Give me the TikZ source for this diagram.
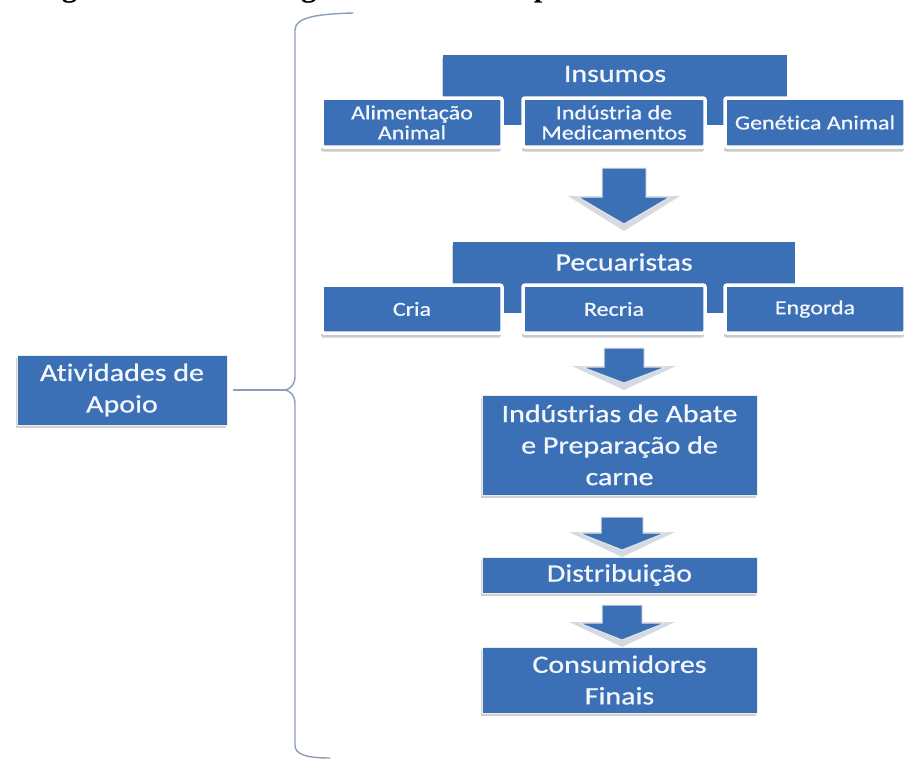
\documentclass[tikz,border=0pt]{standalone}
\usepackage{fontspec}
\setmainfont{Carlito}[FakeStretch=1.2, FakeBold=0.7, RawFeature={-liga;-calt;-dlig}]
\newfontfamily\ttlfont{Liberation Serif}
\usetikzlibrary{shadows}
\definecolor{bblue}{RGB}{59,111,182}
\definecolor{txtw}{RGB}{243,247,252}
\definecolor{bracec}{RGB}{140,157,184}
\definecolor{chevc}{RGB}{212,217,226}
\newcommand\subf{\fontsize{20}{20}\selectfont}
\newcommand\bigf{\fontsize{25}{31.5}\selectfont}
% block arrow: #1 centre x, #2 top, #3 neck, #4 tip, #5 shaft half width, #6 head half width
\newcommand\barrow[6]{%
  \fill[chevc] ({#1-#6-10},{#3-1}) -- ({#1},{#4+7}) -- ({#1+#6+10},{#3-1}) -- cycle;
  \filldraw[bblue, draw=gray!20, line width=1pt]
    ({#1-#5},{#2}) -- ({#1+#5},{#2}) -- ({#1+#5},{#3}) -- ({#1+#6},{#3}) --
    ({#1},{#4}) -- ({#1-#6},{#3}) -- ({#1-#5},{#3}) -- cycle;
}
\begin{document}
\begin{tikzpicture}[x=1pt,y=-1pt,
  myshadow/.style={drop shadow={shadow xshift=-1pt, shadow yshift=-3pt, fill=black!45, opacity=.4}},
  hdr/.style={fill=bblue, draw=none, text=txtw, font=\bigf, inner sep=0pt, myshadow},
  subbox/.style={fill=bblue, draw=white, line width=3.5pt, rounded corners=2pt, text=txtw,
    font=\subf, align=center, inner sep=0pt, minimum height=49pt,
    drop shadow={shadow xshift=-1pt, shadow yshift=-4.5pt, fill=black!45, opacity=.45}},
  bigbox/.style={fill=bblue, draw=white!85!gray, line width=1pt, text=txtw, font=\bigf,
    align=center, inner sep=0pt, minimum width=275pt, myshadow},
  bracel/.style={draw=bracec, line width=1.4pt, line cap=round}
]
\useasboundingbox[fill=white] (0,0) rectangle (904,760);

% title (cut off at the top, as in the reference)
\node[anchor=base west, inner sep=0pt, font=\ttlfont\bfseries\fontsize{31}{31}\selectfont] (title) at (34,-3.5)
  {Figura 4 – Cadeia Agroindustrial Simplificada da Carne Bovina};

% Insumos group
\node[hdr, minimum width=344pt, minimum height=38pt] (ins) at (615,74) {Insumos};
\fill[bblue] (ins.south west) rectangle ([yshift=-32pt]ins.south east);
\node[subbox, minimum width=180pt] (alim) at (412,122.5) {Alimentação\\Animal};
\node[subbox, minimum width=182pt] (medic) at (614,122.5) {Indústria de\\Medicamentos};
\node[subbox, minimum width=180pt] (gen) at (815,122.5) {Genét\kern0pt ica Animal};

\barrow{624}{168}{197}{224}{22}{46}

% Pecuaristas group
\node[hdr, minimum width=342pt, minimum height=40pt] (pec) at (624,262) {Pecuaristas};
\fill[bblue] (pec.south west) rectangle ([yshift=-31pt]pec.south east);
\node[subbox, minimum width=180pt, minimum height=48pt] (cria) at (412,309) {Cria};
\node[subbox, minimum width=182pt, minimum height=48pt] (recria) at (614,309) {Recria};
\node[subbox, minimum width=180pt, minimum height=48pt] (engorda) at (815,309) {Engorda};

\barrow{624}{348}{367}{383}{20}{42}

\node[bigbox, minimum height=100pt] (abate) at (619.5,445) {Indústrias de Abate\\e Preparação de\\carne};

\barrow{622}{517}{533}{550}{21}{43}

\node[bigbox, minimum height=36pt] (dist) at (619.5,575) {Distribuição};

\barrow{622}{605}{623}{640}{20}{43}

\node[bigbox, minimum height=66pt] (cons) at (619.5,680) {Consumidores\\Finais};

% Atividades de Apoio and brace
\node[fill=bblue, draw=white!85!gray, line width=1pt, text=txtw, font=\bigf, align=center,
  inner sep=0pt, minimum width=210pt, minimum height=70pt, myshadow] (apoio) at (122,390)
  {At\kern0pt ividades de\\Apoio};
\coordinate (tip) at (283,390);
\draw[bracel] (353,13) .. controls (318,14) and (295,17) .. (295,30) -- (295,376)
  .. controls (295,384) and (291,390) .. (tip);
\draw[bracel] (tip) .. controls (291,390) and (295,396) .. (295,404) -- (295,745)
  .. controls (295,754) and (305,758) .. (330,758);
\draw[bracel] ([xshift=6pt]apoio.east) -- (tip);
\end{tikzpicture}
\end{document}
